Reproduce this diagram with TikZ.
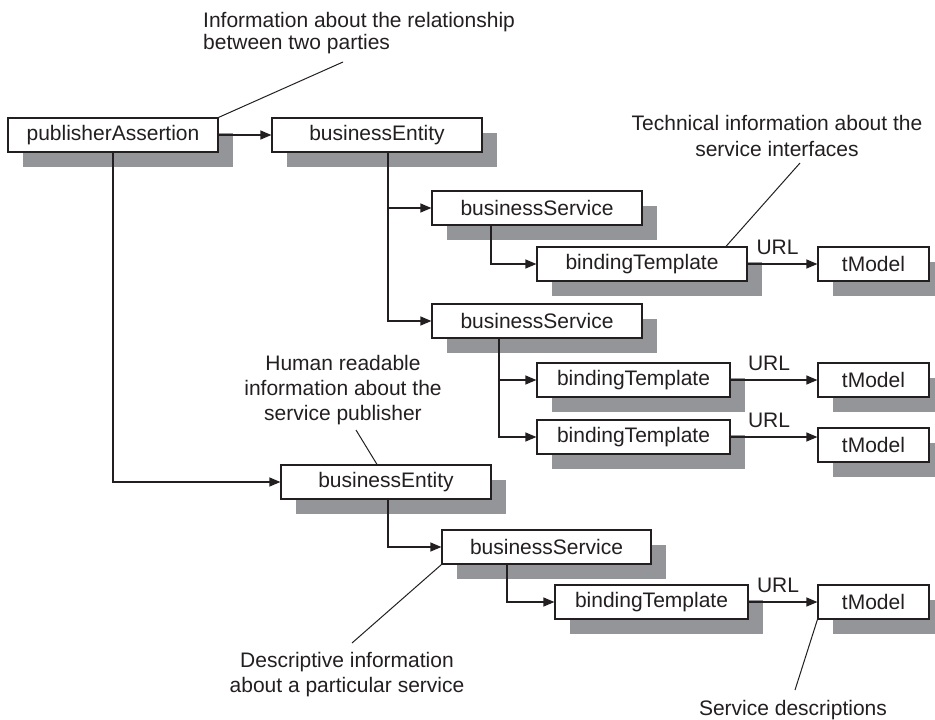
\documentclass[tikz,border=0pt]{standalone}
\usepackage{fontspec}
\setmainfont{Liberation Sans}
\usetikzlibrary{arrows.meta,shadows}
\definecolor{ink}{HTML}{231F20}
\definecolor{shade}{HTML}{939598}
\begin{document}
\begin{tikzpicture}[x=1pt,y=-1pt,
  ubox/.style={draw=ink, line width=1.2pt, fill=white, inner sep=0pt,
    minimum height=34pt, text=ink, font=\fontsize{21}{25}\selectfont,
    drop shadow={shadow xshift=15pt, shadow yshift=-15pt, fill=shade, opacity=1}},
  conn/.style={draw=ink, line width=1.2pt, -{Triangle[length=11pt,width=9pt]}},
  callout/.style={draw=ink, line width=1pt},
  note/.style={text=ink, font=\fontsize{21}{25}\selectfont, inner sep=0pt, align=center},
  urllab/.style={text=ink, font=\fontsize{21}{25}\selectfont, inner sep=0pt, midway, above=9pt, xshift=-5pt}]
\useasboundingbox (0,0) rectangle (935,720);

% boxes
\node[ubox, minimum width=210pt] (pA)  at (113,135)   {publisherAssertion};
\node[ubox, minimum width=210pt] (bE1) at (377,135)   {businessEntity};
\node[ubox, minimum width=210pt] (bS1) at (537,208)   {businessService};
\node[ubox, minimum width=210pt] (bT1) at (642,264)   {bindingTemplate};
\node[ubox, minimum width=111pt] (tM1) at (873.5,264) {tModel};
\node[ubox, minimum width=210pt] (bS2) at (537,321)   {businessService};
\node[ubox, minimum width=193pt] (bT2) at (633.5,380) {bindingTemplate};
\node[ubox, minimum width=111pt] (tM2) at (873.5,380) {tModel};
\node[ubox, minimum width=193pt] (bT3) at (633.5,437) {bindingTemplate};
\node[ubox, minimum width=111pt] (tM3) at (873.5,445) {tModel};
\node[ubox, minimum width=210pt] (bE2) at (386,482)   {businessEntity};
\node[ubox, minimum width=209pt] (bS3) at (546.5,547) {businessService};
\node[ubox, minimum width=193pt] (bT4) at (651.5,602) {bindingTemplate};
\node[ubox, minimum width=111pt] (tM4) at (873.5,602) {tModel};

% tree connectors
\draw[conn] (pA.east) -- (bE1.west);
\draw[conn] (pA.south) |- (bE2.west);
\draw[conn] ([xshift=11pt]bE1.south) |- (bS1.west);
\draw[conn] ([xshift=11pt]bE1.south) |- (bS2.west);
\draw[conn] ([xshift=-46pt]bS1.south) |- (bT1.west);
\draw[conn] ([xshift=-38pt]bS2.south) |- (bT2.west);
\draw[conn] ([xshift=-38pt]bS2.south) |- (bT3.west);
\draw[conn] ([xshift=2pt]bE2.south) |- (bS3.west);
\draw[conn] ([xshift=-39.5pt]bS3.south) |- (bT4.west);

% URL connectors
\draw[conn] (bT1.east) -- (tM1.west) node[urllab] {URL};
\draw[conn] (bT2.east) -- (tM2.west) node[urllab] {URL};
\draw[conn] (bT3.east) -- (bT3.east -| tM3.west) node[urllab] {URL};
\draw[conn] (bT4.east) -- (tM4.west) node[urllab] {URL};

% callout texts
\node[note, anchor=north west, align=left, font=\fontsize{21}{22}\selectfont] (n1) at (203,12)
  {Information about the relationship\\between two parties};
\node[note, anchor=north, font=\fontsize{21}{26}\selectfont] (n2) at (777,115)
  {Technical information about the\\service interfaces};
\node[note, anchor=north] (n3) at (343,355)
  {Human readable\\information about the\\service publisher};
\node[note, anchor=north] (n4) at (347,652)
  {Descriptive information\\about a particular service};
\node[note, anchor=north] (n5) at (793,700)
  {Service descriptions};

% callout lines
\coordinate (c1) at (343,62);
\coordinate (c2) at (800,163);
\coordinate (c3) at (356,430);
\coordinate (c4) at (352,643);
\coordinate (c5) at (795,690);
\draw[callout] (c1) -- (pA.north east);
\draw[callout] (c2) -- ([xshift=84pt]bT1.north);
\draw[callout] (c3) -- ([xshift=-9pt]bE2.north);
\draw[callout] (c4) -- (bS3.south west);
\draw[callout] (c5) -- (tM4.south west);
\end{tikzpicture}
\end{document}
